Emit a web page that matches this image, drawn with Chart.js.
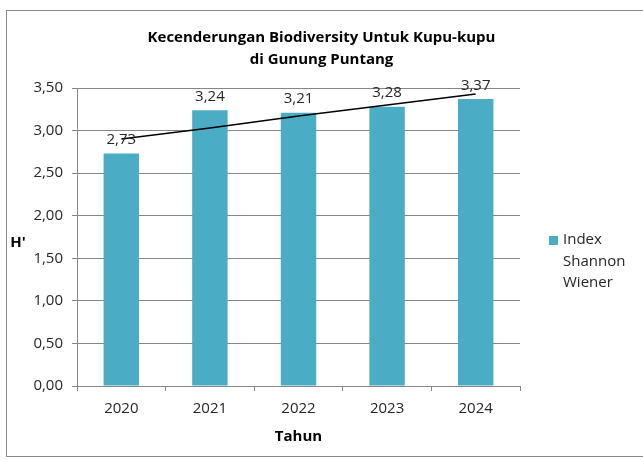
<!DOCTYPE html>
<html lang="en">
<head>
<meta charset="UTF-8" />
<title>Kecenderungan Biodiversity Untuk Kupu-kupu</title>
<script src="https://cdn.jsdelivr.net/npm/chart.js"></script>
<style>
  html, body { margin: 0; padding: 0; background: #fff; }
</style>
</head>
<body>
<canvas id="myChart" width="643" height="460"></canvas>
<script>
// values
const years = ['2020', '2021', '2022', '2023', '2024'];
const shannonIndex = [2.73, 3.24, 3.21, 3.28, 3.37];
const trendValues = [2.90, 3.03, 3.17, 3.30, 3.43];
const titleLines = ['Kecenderungan Biodiversity Untuk Kupu-kupu', 'di Gunung Puntang'];
const legendLines = ['Index', 'Shannon', 'Wiener'];
const yTitle = "H'";
const xTitle = 'Tahun';

const barColor = '#4bacc6';
const gridColor = '#868686';
const fmt = v => v.toFixed(2).replace('.', ',');

Chart.defaults.font.family = "'Open Sans', 'Noto Sans', sans-serif";
Chart.defaults.font.size = 15;
Chart.defaults.color = '#262626';

// outer frame like the spreadsheet chart border
const framePlugin = {
  id: 'frame',
  beforeDraw(chart) {
    const ctx = chart.ctx;
    ctx.save();
    ctx.fillStyle = '#fff';
    ctx.fillRect(0, 0, chart.width, chart.height);
    ctx.strokeStyle = '#8a8a8a';
    ctx.lineWidth = 1;
    ctx.strokeRect(6.5, 10.5, 700, 446);
    ctx.restore();
  }
};

// value labels above the bars
const valueLabels = {
  id: 'valueLabels',
  afterDatasetsDraw(chart) {
    const ctx = chart.ctx;
    const meta = chart.getDatasetMeta(0);
    ctx.save();
    ctx.font = "15px 'Open Sans', sans-serif";
    ctx.fillStyle = '#262626';
    ctx.textAlign = 'center';
    ctx.textBaseline = 'bottom';
    meta.data.forEach((bar, i) => {
      ctx.fillText(fmt(shannonIndex[i]), bar.x, bar.y - 6);
    });
    ctx.restore();
  }
};

// side legend with wrapped text, and the horizontal y title
const sideText = {
  id: 'sideText',
  afterDraw(chart) {
    const ctx = chart.ctx;
    ctx.save();
    ctx.fillStyle = barColor;
    ctx.fillRect(549, 236, 9, 9);
    ctx.fillStyle = '#262626';
    ctx.font = "15px 'Open Sans', sans-serif";
    ctx.textAlign = 'left';
    ctx.textBaseline = 'middle';
    legendLines.forEach((t, i) => ctx.fillText(t, 563, 240 + i * 21.5));
    ctx.font = "bold 15px 'Open Sans', sans-serif";
    ctx.fillStyle = '#000';
    ctx.textAlign = 'center';
    ctx.fillText(yTitle, 18, 243);
    ctx.restore();
  }
};

const ctx = document.getElementById('myChart').getContext('2d');
new Chart(ctx, {
  type: 'bar',
  data: {
    labels: years,
    datasets: [{
      label: legendLines.join(' '),
      data: shannonIndex,
      backgroundColor: barColor,
      categoryPercentage: 0.8,
      barPercentage: 0.5,
      order: 2
    }, {
      type: 'line',
      label: 'trend',
      data: trendValues,
      borderColor: '#000',
      borderWidth: 1.5,
      pointRadius: 0,
      fill: false,
      order: 1
    }]
  },
  options: {
    responsive: false,
    animation: false,
    layout: { padding: 0 },
    plugins: {
      legend: { display: false },
      tooltip: { enabled: false },
      title: {
        display: true,
        text: titleLines,
        color: '#000',
        font: { size: 15, weight: 'bold', lineHeight: 1.5 },
        padding: { top: 26, bottom: 17 }
      }
    },
    scales: {
      x: {
        offset: true,
        grid: { display: true, drawOnChartArea: false, drawTicks: true, tickLength: 5, color: gridColor },
        border: { color: gridColor },
        ticks: { padding: 9, color: '#262626' },
        title: { display: true, text: xTitle, color: '#000', font: { size: 15, weight: 'bold' }, padding: { top: 4, bottom: 14 } },
        afterFit(s) { s.height = 74; }
      },
      y: {
        min: 0,
        max: 3.5,
        ticks: { stepSize: 0.5, callback: v => fmt(v), padding: 9, color: '#262626' },
        grid: { color: gridColor, tickLength: 5 },
        border: { color: gridColor },
        afterFit(s) { s.width = 77; }
      },
      yRight: {
        position: 'right',
        grid: { display: false },
        border: { display: false },
        ticks: { display: false },
        afterFit(s) { s.width = 123; }
      }
    }
  },
  plugins: [framePlugin, valueLabels, sideText]
});
</script>
</body>
</html>
